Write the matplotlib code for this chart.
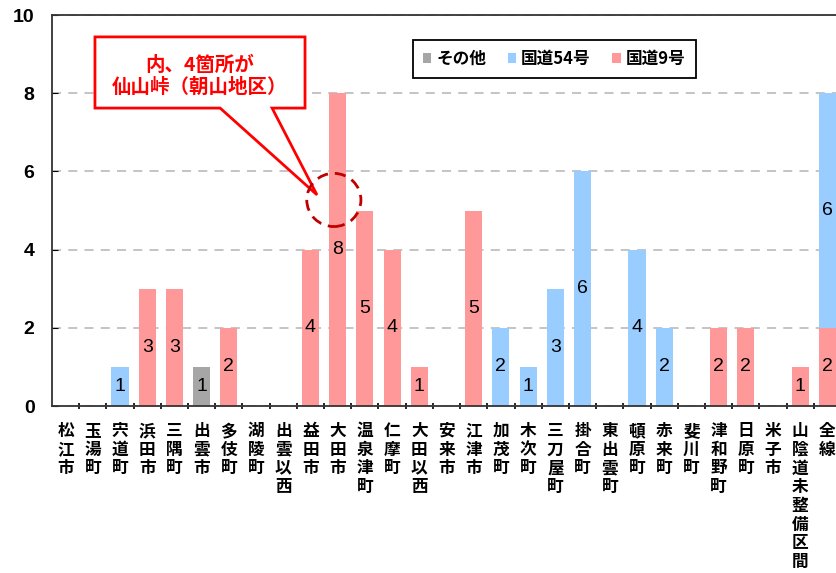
import numpy as np
import matplotlib
matplotlib.use("Agg")
import matplotlib.pyplot as plt
from matplotlib.patches import Polygon, Ellipse

plt.rcParams['font.family'] = ['Liberation Sans', 'Noto Sans CJK JP', 'DejaVu Sans']

# 区間ごとの件数
places = ['松江市', '玉湯町', '宍道町', '浜田市', '三隅町', '出雲市', '多伎町', '湖陵町',
          '出雲以西', '益田市', '大田市', '温泉津町', '仁摩町', '大田以西', '安来市', '江津市',
          '加茂町', '木次町', '三刀屋町', '掛合町', '東出雲町', '頓原町', '赤来町', '斐川町',
          '津和野町', '日原町', '米子市', '山陰道未整備区間', '全線']
other = [0, 0, 0, 0, 0, 1, 0, 0, 0, 0, 0, 0, 0, 0, 0, 0,
         0, 0, 0, 0, 0, 0, 0, 0, 0, 0, 0, 0, 0]
route54 = [0, 0, 1, 0, 0, 0, 0, 0, 0, 0, 0, 0, 0, 0, 0, 0,
           2, 1, 3, 6, 0, 4, 2, 0, 0, 0, 0, 0, 6]
route9 = [0, 0, 0, 3, 3, 0, 2, 0, 0, 4, 8, 5, 4, 1, 0, 5,
          0, 0, 0, 0, 0, 0, 0, 0, 2, 2, 0, 1, 2]
series = [('その他', other, '#A6A6A6'),
          ('国道54号', route54, '#99CCFF'),
          ('国道9号', route9, '#FF9999')]

fig = plt.figure(figsize=(8.37, 5.73), dpi=100)
ax = fig.add_axes([0.0621, 0.2914, 0.9427, 0.6824])

x = np.arange(len(places))
w = 0.63
# 国道9号を下段に積み上げる
stack_order = [2, 1, 0]
bottom = np.zeros(len(places))
handles = {}
for k in stack_order:
    name, vals, col = series[k]
    vals = np.array(vals, dtype=float)
    bars = ax.bar(x, vals, w, bottom=bottom, color=col, zorder=2, label=name)
    handles[k] = bars
    for xi, b, v in zip(x, bottom, vals):
        if v > 0:
            ax.text(xi, b + v / 2, '%d' % v, ha='center', va='center',
                    fontsize=14, color='black', zorder=3)
    bottom += vals

ax.set_xlim(-0.5, len(places) - 0.5)
ax.set_ylim(0, 10)
ax.set_yticks(range(0, 11, 2))
ax.tick_params(axis='y', direction='in', length=4, labelsize=14, pad=12.5)
for lab in ax.get_yticklabels():
    lab.set_fontweight('bold')
ax.yaxis.grid(True, linestyle=(0, (5, 4)), color='#BFBFBF', linewidth=1.3, zorder=0)
ax.set_axisbelow(True)

ax.set_xticks(x)
ax.set_xticklabels(['\n'.join(p) for p in places], family=['Noto Sans CJK JP'],
                   fontsize=12, fontweight='bold', va='top', linespacing=1.05)
ax.tick_params(axis='x', length=0, pad=11.5)
ax.set_xticks(x[:-1] + 0.5, minor=True)
ax.tick_params(axis='x', which='minor', direction='inout', length=5, width=1.2)

for s in ['left', 'bottom', 'top', 'right']:
    ax.spines[s].set_linewidth(1.3)
    ax.spines[s].set_color('#333333')

leg = ax.legend([handles[0], handles[1], handles[2]], [s[0] for s in series],
                loc='upper left', bbox_to_anchor=(0.4575, 0.936), ncol=3,
                prop={'family': 'Noto Sans CJK JP', 'weight': 'bold', 'size': 12},
                handlelength=0.5, handleheight=0.5, handletextpad=0.3,
                columnspacing=1.3, fancybox=False, edgecolor='black',
                framealpha=1, borderpad=0.6, borderaxespad=0)
leg.get_frame().set_linewidth(1.3)

# 吹き出し
callout = Polygon([(1.08, 9.44), (8.80, 9.44), (8.80, 7.62), (7.59, 7.62),
                   (9.24, 5.40), (5.68, 7.62), (1.08, 7.62)],
                  closed=True, facecolor='white', edgecolor='#FF0000',
                  linewidth=2, zorder=4)
ax.add_patch(callout)
ax.text(4.94, 8.44, '内、4箇所が\n仙山峠（朝山地区）', ha='center', va='center',
        color='#FF0000', fontsize=14, fontweight='bold',
        family=['Noto Sans CJK JP'], linespacing=1.2, zorder=5)
ax.add_patch(Ellipse((9.86, 5.27), 1.99, 1.36, fill=False, edgecolor='#C00000',
                     linewidth=2, linestyle=(0, (4, 2.5)), zorder=4))

fig.savefig('out.png', dpi=100)
